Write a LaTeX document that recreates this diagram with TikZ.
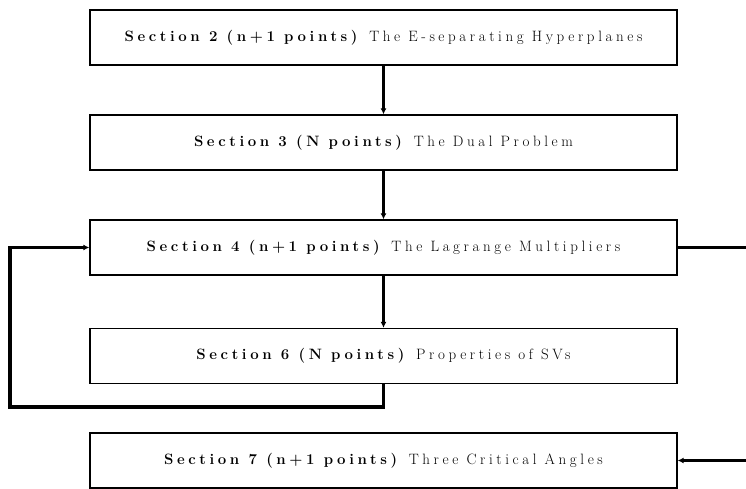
\documentclass[tikz,border=0pt]{standalone}
\usepackage{fontspec}
\newfontfamily\secfont{Latin Modern Roman}[LetterSpace=24]
\usetikzlibrary{arrows.meta}
\begin{document}
\begin{tikzpicture}
[boxDecorate/.style={draw,line width=1.3pt,minimum width=587pt,minimum height=55pt,inner sep=0pt,%
   font=\secfont\fontsize{15}{17}\selectfont},%
  lineDecorate/.style={line width=3.5pt},%
  arrowDecorate/.style={line width=3.5pt,-{Latex[length=6pt,width=6pt]}},%
  x=1pt,y=-1pt]
\useasboundingbox (0,0) rectangle (746,489);
%% section boxes
\foreach \nodename/\y/\sec/\pts/\title in {
  sec2/37.5/2/n+1/The E-separating Hyperplanes,
  sec3/142.5/3/N/The Dual Problem,
  sec4/247.5/4/n+1/The Lagrange Multipliers,
  sec6/356/6/N/Properties of SVs,
  sec7/460.5/7/n+1/Three Critical Angles}
{
  \node (\nodename) at (383.5,\y) [boxDecorate] {\textbf{Section \sec\ (\pts\ points)} \title};
}
%% free ends
\coordinate (loopB) at (10,407);
\coordinate (rightA) at (746,247.5);
\coordinate (rightB) at (746,460.5);
%% connectors
\path
\foreach \startnode/\endnode in {sec2/sec3, sec3/sec4, sec4/sec6}
{
  (\startnode.south) edge[arrowDecorate] (\endnode.north)
};
\draw[arrowDecorate] (sec6.south) |- (loopB) |- (sec4.west);
\draw[lineDecorate] (sec4.east) -- (rightA);
\draw[arrowDecorate] (rightB) -- (sec7.east);
\end{tikzpicture}
\end{document}
